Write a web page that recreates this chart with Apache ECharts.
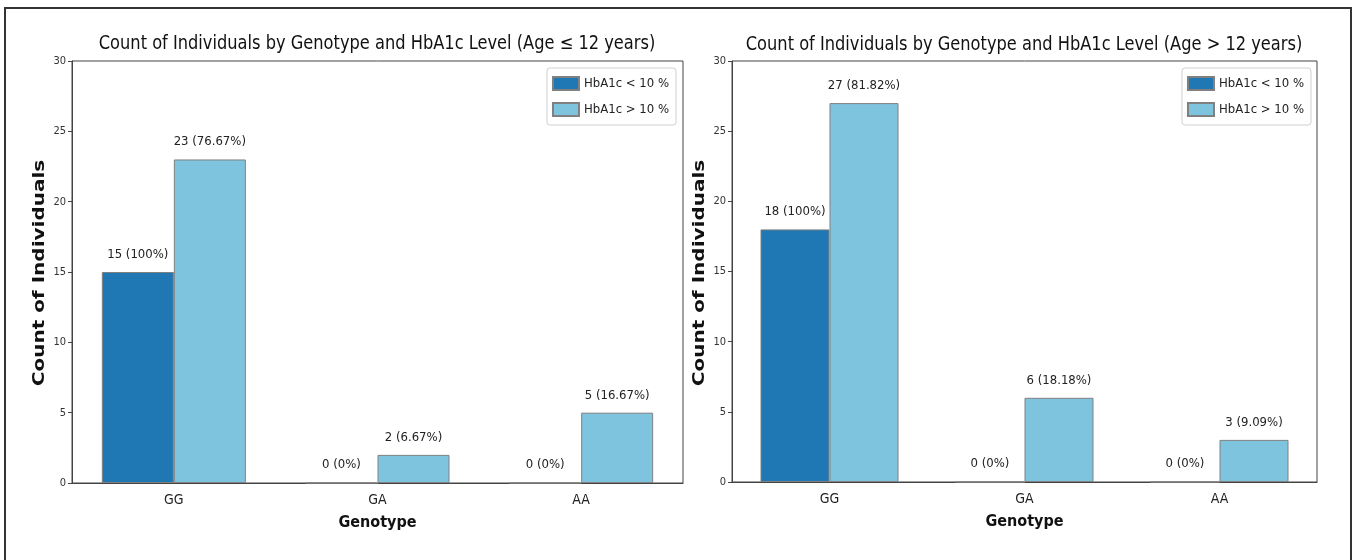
<!DOCTYPE html>
<html>
<head>
<meta charset="utf-8">
<script src="https://cdn.jsdelivr.net/npm/echarts@6/dist/echarts.min.js"></script>
<style>
  html, body { margin: 0; padding: 0; background: #fff; }
  #chart { width: 1356px; height: 560px; }
</style>
</head>
<body>
<div id="chart"></div>
<script>
// Genotype categories shared by both panels
const genotypes = ['GG', 'GA', 'AA'];

// Counts per genotype, age <= 12 years
const youngLow = [15, 0, 0];   // HbA1c < 10 %
const youngHigh = [23, 2, 5];  // HbA1c > 10 %
const youngTotals = [15, 30];  // group sizes used for the percentages

// Counts per genotype, age > 12 years
const olderLow = [18, 0, 0];
const olderHigh = [27, 6, 3];
const olderTotals = [18, 33];

const seriesNames = ['HbA1c < 10 %', 'HbA1c > 10 %'];
const panelTitles = [
  'Count of Individuals by Genotype and HbA1c Level (Age \u2264 12 years)',
  'Count of Individuals by Genotype and HbA1c Level (Age > 12 years)'
];
const yTickValues = [0, 5, 10, 15, 20, 25, 30];

const DARK = '#1f77b4';
const LIGHT = '#7ec4df';
const EDGE = '#808080';
const COND = '"DejaVu Sans Condensed", "Liberation Sans Narrow", "DejaVu Sans", sans-serif';
const WIDE = '"DejaVu Sans", sans-serif';

// "n (p%)" where p is the share of n within its group
function shareLabel(total) {
  return function (p) {
    const pct = total ? Number((p.value / total * 100).toFixed(2)) : 0;
    return p.value + ' (' + pct + '%)';
  };
}

const grids = [
  { left: 72, top: 61, width: 611, height: 422 },
  { left: 732, top: 61, width: 585, height: 421 }
];
const barWidths = [72, 69];

function xAxisFor(i) {
  return {
    type: 'category', gridIndex: i, data: genotypes,
    name: 'Genotype', nameLocation: 'middle', nameGap: 32,
    nameTextStyle: { fontFamily: COND, fontWeight: 'bold', fontSize: 16, color: '#111' },
    axisLine: { lineStyle: { color: '#444', width: 1 } },
    axisTick: { alignWithLabel: true, length: 4, lineStyle: { color: '#444' } },
    axisLabel: { fontFamily: COND, fontSize: 14, color: '#222', margin: 10 }
  };
}
function yAxisFor(i) {
  return {
    type: 'value', gridIndex: i, min: 0, max: 30, interval: 5,
    axisLine: { show: true, lineStyle: { color: '#444', width: 1 } },
    axisTick: { show: true, length: 4, lineStyle: { color: '#444' } },
    axisLabel: { fontFamily: COND, fontSize: 11, color: '#333', margin: 6,
      formatter: v => (yTickValues.indexOf(v) >= 0 ? String(v) : '') },
    splitLine: { show: false }
  };
}
function barSeries(i, name, data, total, color) {
  return {
    type: 'bar', name: name, xAxisIndex: i, yAxisIndex: i, data: data,
    barWidth: barWidths[i], barGap: '0%',
    itemStyle: { color: color, borderColor: EDGE, borderWidth: 1 },
    label: { show: true, position: 'top', distance: 11, formatter: shareLabel(total),
      fontFamily: COND, fontSize: 13, color: '#222' },
    emphasis: { disabled: true }
  };
}
function legendFor(right) {
  return {
    orient: 'vertical', right: right, top: 68,
    data: seriesNames.map(n => ({ name: n, icon: 'rect' })), selectedMode: false,
    itemWidth: 26, itemHeight: 13, itemGap: 11,
    padding: [8, 7, 8, 5],
    backgroundColor: '#fff', borderColor: '#d0d0d0', borderWidth: 1, borderRadius: 3,
    textStyle: { fontFamily: COND, fontSize: 13, color: '#222' }
  };
}
function titleText(x, y, text) {
  return { type: 'text', silent: true, x: x, y: y, scaleX: 0.95,
    style: { text: text, align: 'center', verticalAlign: 'middle',
      font: '19px ' + COND, fill: '#111' } };
}
function yNameText(x, y) {
  return { type: 'text', silent: true, x: x, y: y, rotation: Math.PI / 2, scaleY: 0.8,
    style: { text: 'Count of Individuals', align: 'center', verticalAlign: 'middle',
      font: 'bold 20px ' + WIDE, fill: '#111' } };
}

const chart = echarts.init(document.getElementById('chart'), null, { renderer: 'canvas' });
chart.setOption({
  animation: false,
  backgroundColor: '#fff',
  grid: grids.map(g => Object.assign({ show: true, borderColor: '#444', borderWidth: 1, backgroundColor: 'transparent' }, g)),
  xAxis: [xAxisFor(0), xAxisFor(1)],
  yAxis: [yAxisFor(0), yAxisFor(1)],
  legend: [legendFor(680), legendFor(45)],
  series: [
    barSeries(0, seriesNames[0], youngLow, youngTotals[0], DARK),
    barSeries(0, seriesNames[1], youngHigh, youngTotals[1], LIGHT),
    barSeries(1, seriesNames[0], olderLow, olderTotals[0], DARK),
    barSeries(1, seriesNames[1], olderHigh, olderTotals[1], LIGHT)
  ],
  graphic: [
    { type: 'rect', silent: true, z: 100,
      shape: { x: 5, y: 8, width: 1346, height: 600 },
      style: { fill: 'none', stroke: '#333', lineWidth: 2 } },
    titleText(377, 44, panelTitles[0]),
    titleText(1024, 45, panelTitles[1]),
    yNameText(40, 273),
    yNameText(700, 273)
  ]
});
</script>
</body>
</html>
